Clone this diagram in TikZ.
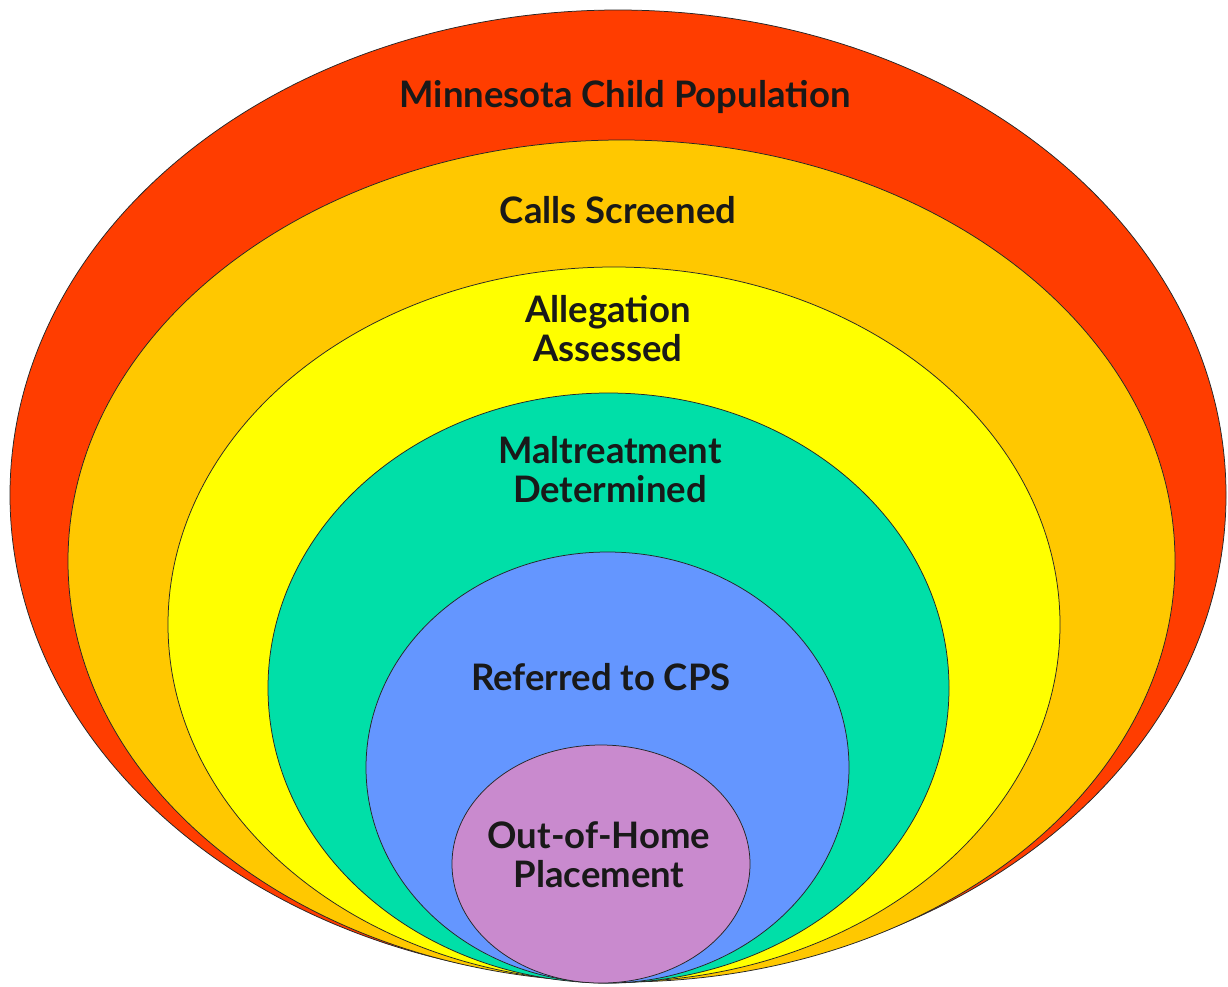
\documentclass[tikz,border=0pt]{standalone}
\usepackage{fontspec}
\setmainfont{Lato}
\definecolor{cRed}{HTML}{FF3D00}
\definecolor{cOrange}{HTML}{FFC800}
\definecolor{cYellow}{HTML}{FFFF00}
\definecolor{cGreen}{HTML}{00DFA8}
\definecolor{cBlue}{HTML}{6496FF}
\definecolor{cPurple}{HTML}{C98ACE}
\tikzset{
  ring/.style={draw=black!85, line width=0.75pt},
  lbl/.style={font=\fontsize{36.5}{39}\selectfont\bfseries, align=center, text=black!90, inner sep=0pt}
}
\begin{document}
\begin{tikzpicture}[x=1pt,y=-1pt]
\useasboundingbox[fill=white] (0,0) rectangle (1228,986);
\path[ring, fill=cRed]    (618,495)   ellipse [x radius=608pt, y radius=485pt];
\path[ring, fill=cOrange] (621.5,561) ellipse [x radius=553.5pt, y radius=421pt];
\path[ring, fill=cYellow] (614,624.5) ellipse [x radius=446pt, y radius=357.5pt];
\path[ring, fill=cGreen]  (608.5,688) ellipse [x radius=340.5pt, y radius=295pt];
\path[ring, fill=cBlue]   (607.5,767.5) ellipse [x radius=241.5pt, y radius=215.5pt];
\path[ring, fill=cPurple] (601,864) ellipse [x radius=149pt, y radius=119pt];
\node[lbl] (pop) at (625,97) {Minnesota Child Population};
\node[lbl] (calls) at (618,210) {Calls Screened};
\node[lbl] (alleg) at (608,329) {Allegation\\Assessed};
\node[lbl] (malt) at (610,470) {Maltreatment\\Determined};
\node[lbl] (cps) at (601,677) {Referred to CPS};
\node[lbl] (ooh) at (599,855) {Out-of-Home\\Placement};
\end{tikzpicture}
\end{document}
